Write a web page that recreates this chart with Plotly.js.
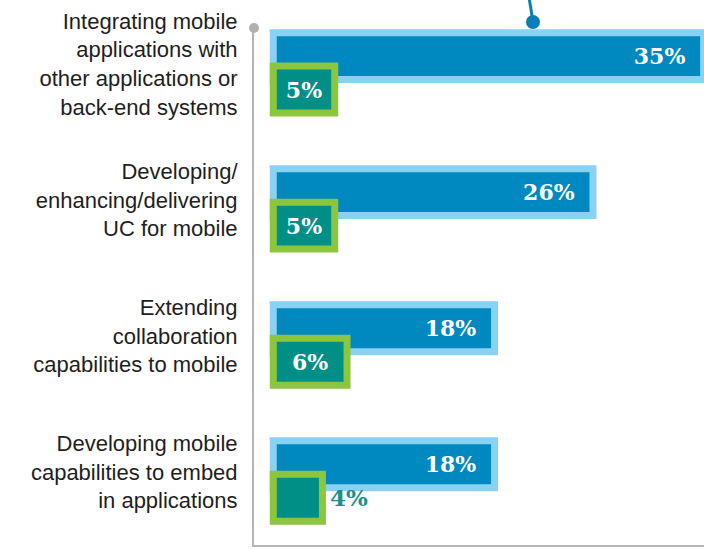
<!DOCTYPE html>
<html>
<head>
<meta charset="utf-8">
<script src="https://cdn.plot.ly/plotly-3.0.1.min.js"></script>
<style>
  html, body { margin: 0; padding: 0; background: #fff; }
  #chart { width: 704px; height: 549px; }
</style>
</head>
<body>
<div id="chart"></div>
<script>
const categories = [
    'Integrating mobile<br>applications with<br>other applications or<br>back-end systems',
    'Developing/<br>enhancing/delivering<br>UC for mobile',
    'Extending<br>collaboration<br>capabilities to mobile',
    'Developing mobile<br>capabilities to embed<br>in applications'
];
const firstSeries = [35, 26, 18, 18];
const secondSeries = [5, 5, 6, 4];

const barFont = { family: 'DejaVu Serif', size: 22, weight: 'bold', color: '#ffffff' };
const pad = '\u00a0\u00a0';

const firstTrace = {
    type: 'bar',
    orientation: 'h',
    x: firstSeries,
    y: categories,
    text: firstSeries.map(v => v + '%' + pad),
    textposition: 'inside',
    insidetextanchor: 'end',
    constraintext: 'none',
    textfont: barFont,
    width: 0.345,
    offset: -0.296,
    marker: { color: '#0088c1', line: { color: '#8ad2f2', width: 7 } },
    hoverinfo: 'none'
};

const secondTrace = {
    type: 'bar',
    orientation: 'h',
    x: secondSeries,
    y: categories,
    text: secondSeries.map((v, i) => (i === 3 ? '\u2009' : '') + v + '%'),
    textposition: ['inside', 'inside', 'inside', 'outside'],
    insidetextanchor: 'middle',
    constraintext: 'none',
    textfont: barFont,
    outsidetextfont: { family: 'DejaVu Serif', size: 23, weight: 'bold', color: '#17918a' },
    width: 0.345,
    offset: -0.05,
    marker: { color: '#008f87', line: { color: '#8cc63f', width: 7 } },
    cliponaxis: false,
    hoverinfo: 'none'
};

const layout = {
    width: 704,
    height: 549,
    margin: { l: 254, r: 0, t: 28, b: 4 },
    paper_bgcolor: '#ffffff',
    plot_bgcolor: '#ffffff',
    barmode: 'overlay',
    showlegend: false,
    xaxis: {
        range: [-1.566, 35.03],
        showticklabels: false,
        showgrid: false,
        zeroline: false,
        showline: true,
        linecolor: '#b5b5b5',
        linewidth: 2,
        fixedrange: true
    },
    yaxis: {
        type: 'category',
        range: [3.47, -0.33],
        showgrid: false,
        zeroline: false,
        showline: true,
        linecolor: '#b5b5b5',
        linewidth: 2,
        ticks: '',
        ticklabelstandoff: 10,
        ticklabelshift: 9,
        tickfont: { family: 'Liberation Sans, Arial, sans-serif', size: 22, color: '#1e1e1e' },
        fixedrange: true
    },
    shapes: [
        // grey knob on top of the axis
        { type: 'circle', xref: 'paper', yref: 'paper', xsizemode: 'pixel', ysizemode: 'pixel',
          xanchor: 0, yanchor: 1, x0: -5, x1: 5, y0: -5, y1: 5,
          fillcolor: '#b0b0b0', line: { width: 0 } },
        // leader line coming in from the top
        { type: 'line', xref: 'paper', yref: 'paper', x0: 0.611, y0: 1.06, x1: 0.620, y1: 1.012,
          line: { color: '#0a7fb4', width: 3 } },
        { type: 'circle', xref: 'paper', yref: 'paper', xsizemode: 'pixel', ysizemode: 'pixel',
          xanchor: 0.620, yanchor: 1.0116, x0: -7, x1: 7, y0: -7, y1: 7,
          fillcolor: '#0a7fb4', line: { width: 0 } }
    ]
};

Plotly.newPlot('chart', [firstTrace, secondTrace], layout, { displayModeBar: false, staticPlot: true });
</script>
</body>
</html>
